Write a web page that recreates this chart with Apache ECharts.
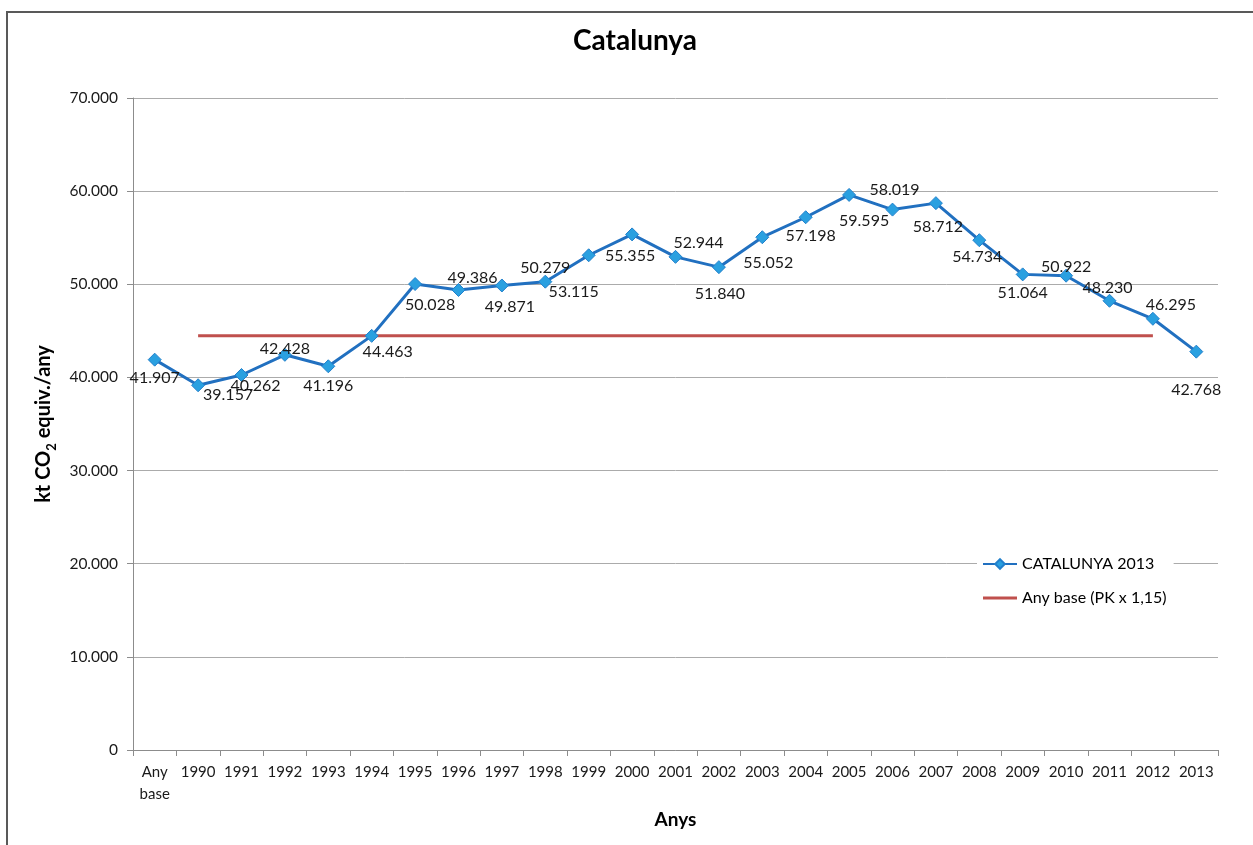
<!DOCTYPE html>
<html>
<head>
<meta charset="utf-8">
<script src="https://cdn.jsdelivr.net/npm/echarts@6/dist/echarts.min.js"></script>
<style>
html,body{margin:0;padding:0;background:#fff;}
#chart{width:1253px;height:845px;}
</style>
</head>
<body>
<div id="chart"></div>
<script>
const categories = ['Any\nbase','1990','1991','1992','1993','1994','1995','1996','1997','1998','1999','2000','2001','2002','2003','2004','2005','2006','2007','2008','2009','2010','2011','2012','2013'];
const catalunya = [41907,39157,40262,42428,41196,44463,50028,49386,49871,50279,53115,55355,52944,51840,55052,57198,59595,58019,58712,54734,51064,50922,48230,46295,42768];
const baseLine = [null,44480,44480,44480,44480,44480,44480,44480,44480,44480,44480,44480,44480,44480,44480,44480,44480,44480,44480,44480,44480,44480,44480,44480,null];
const yTicks = [0,10000,20000,30000,40000,50000,60000,70000];
// label offsets (dx, dy) from each point, in pixels
const labelOffsets = [[0,18],[30,10],[14,11],[0,-6],[0,20],[16,16],[15,21],[14,-12],[8,21],[0,-14],[-15,37],[-2,21],[23,-14],[1,27],[6,26],[5,19],[15,26],[2,-20],[2,24],[-2,17],[0,18],[0,-9],[-2,-13],[18,-14],[0,38]];

const FONT = 'Lato, "Open Sans", sans-serif';
function fmt(v){ return v === 0 ? '0' : String(v).replace(/\B(?=(\d{3})+(?!\d))/g,'.'); }

const chart = echarts.init(document.getElementById('chart'));
chart.setOption({
  animation:false,
  backgroundColor:'#fff',
  textStyle:{fontFamily:FONT},
  title:{
    text:'Catalunya', left:630, textAlign:'center', top:22,
    textStyle:{fontSize:28, fontWeight:'bold', color:'#000', fontFamily:FONT}
  },
  graphic:[
    {type:'polyline', shape:{points:[[7,845],[7,12],[1253,12]]}, style:{stroke:'#595959', lineWidth:2, fill:null}, silent:true}
  ],
  grid:{left:133, right:35, top:98, bottom:95},
  legend:{
    orient:'vertical', left:977, top:553,
    backgroundColor:'#fff', padding:[3,7,3,5],
    itemWidth:34, itemHeight:12, itemGap:18,
    textStyle:{fontSize:16, color:'#000', fontFamily:FONT},
    data:[
      {name:'CATALUNYA 2013'},
      {name:'Any base (PK x 1,15)', icon:'path://M0,0 L34,0 L34,3 L0,3 Z'}
    ]
  },
  xAxis:{
    type:'category', data:categories, boundaryGap:true,
    name:'Anys', nameLocation:'middle', nameGap:60,
    nameTextStyle:{fontSize:19, fontWeight:'bold', color:'#000', fontFamily:FONT},
    axisLine:{lineStyle:{color:'#8c8c8c', width:1}},
    axisTick:{show:true, length:6, alignWithLabel:false, lineStyle:{color:'#8c8c8c'}},
    axisLabel:{fontSize:15, color:'#1a1a1a', margin:11, interval:0, lineHeight:22, fontFamily:FONT}
  },
  yAxis:{
    type:'value', min:0, max:70000, interval:10000,
    name:'{a|kt CO}{s|2}{a| equiv./any}', nameLocation:'middle', nameGap:78, nameRotate:90,
    nameTextStyle:{
      fontFamily:FONT,
      rich:{
        a:{fontSize:20, fontWeight:'bold', color:'#000', fontFamily:FONT, verticalAlign:'bottom', lineHeight:26},
        s:{fontSize:13, fontWeight:'bold', color:'#000', fontFamily:FONT, verticalAlign:'bottom', lineHeight:20, padding:[0,0,-5,0]}
      }
    },
    axisLine:{show:true, lineStyle:{color:'#8c8c8c'}},
    axisTick:{show:true, length:6, lineStyle:{color:'#8c8c8c'}},
    splitLine:{lineStyle:{color:'#ababab', width:1}},
    axisLabel:{fontSize:15.5, color:'#1a1a1a', margin:15, formatter:fmt, fontFamily:FONT}
  },
  series:[
    {
      name:'CATALUNYA 2013', type:'line', data:catalunya.map((v,i)=>({
        value:v,
        label:{show:true, position:'inside', offset:labelOffsets[i]}
      })),
      symbol:'diamond', symbolSize:13,
      lineStyle:{color:'#2170c0', width:3},
      itemStyle:{color:'#2aa0e0', borderColor:'#2280cc', borderWidth:1},
      label:{show:true, position:'inside', formatter:p=>fmt(p.value), fontSize:16, color:'#1a1a1a', fontFamily:FONT},
      z:3
    },
    {
      name:'Any base (PK x 1,15)', type:'line', data:baseLine,
      symbol:'none', lineStyle:{color:'#c0504d', width:3},
      itemStyle:{color:'#c0504d'},
      z:2
    }
  ]
});
</script>
</body>
</html>
